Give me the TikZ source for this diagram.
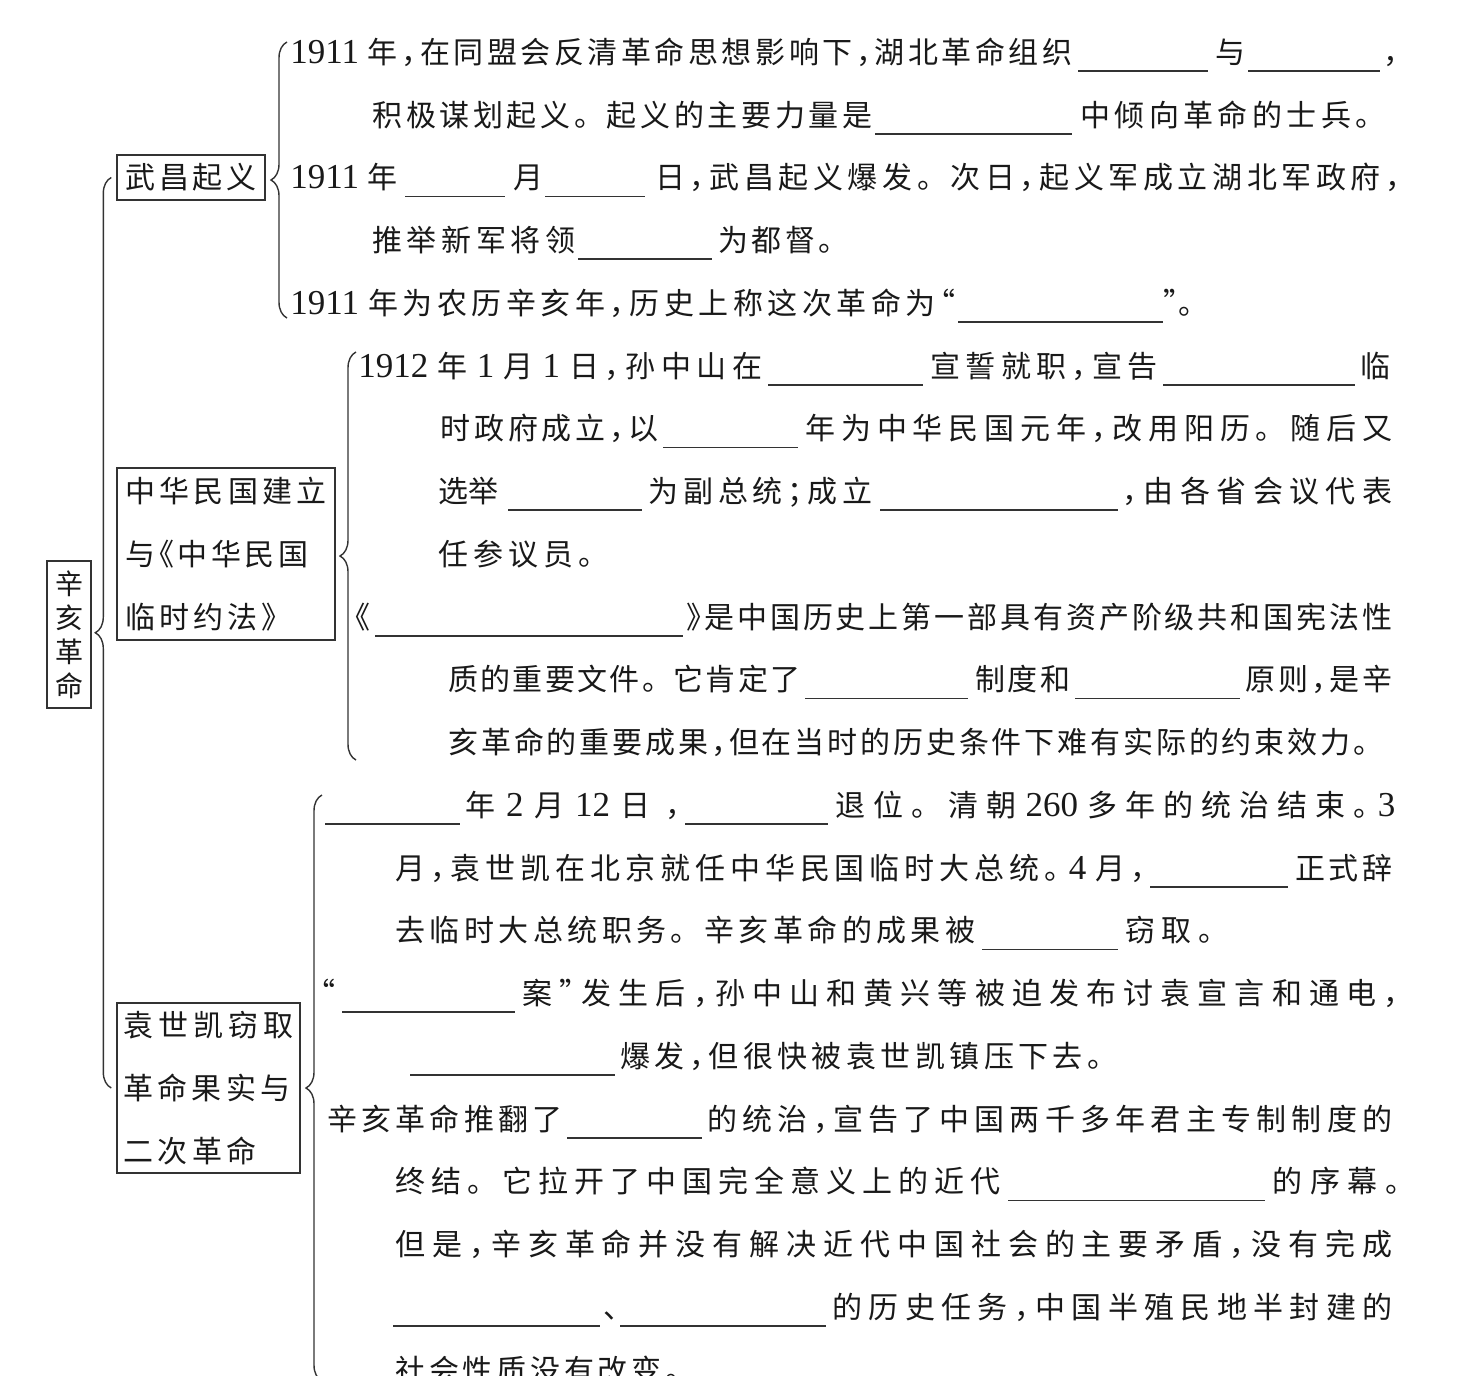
\documentclass[tikz,border=0pt]{standalone}
\usepackage{fontspec}
\setmainfont{Liberation Serif}
\newfontfamily\cjk[LetterSpace=5,RawFeature=+halt]{Noto Sans CJK SC}
\usetikzlibrary{decorations.pathreplacing}

% glue between Chinese characters, so that a line can be spread to its width
\XeTeXinterchartokenstate=1
\newcount\cjkc
\cjkc="4E00
\loop\XeTeXcharclass\cjkc=1 \advance\cjkc by 1 \ifnum\cjkc<"A000\relax\repeat
\XeTeXcharclass"3001=1 \XeTeXcharclass"3002=2 \XeTeXcharclass"FF0C=1
\XeTeXcharclass"FF1B=1 \XeTeXcharclass"201C=1 \XeTeXcharclass"201D=1
\XeTeXcharclass"300A=1 \XeTeXcharclass"300B=1
\XeTeXinterchartoks 1 1 = {\hskip 0pt plus 12pt minus 2pt}
\XeTeXinterchartoks 1 2 = {\hskip 0pt plus 12pt minus 2pt}
\XeTeXinterchartoks 2 1 = {\hskip 7pt plus 12pt minus 2pt}

\newlength\pxu \setlength\pxu{0.5pt}
\newcommand\jt[2]{\makebox[#1\pxu][s]{#2}}
\newcommand\dg[1]{{\rmfamily\fontsize{17.5}{20}\selectfont#1}}

\begin{document}
\begin{tikzpicture}[x=0.5pt,y=-0.5pt,
 txt/.style={anchor=base west,inner sep=0pt,text=black!90,font=\cjk\fontsize{15}{20}\selectfont},
 box/.style={draw=black!80,line width=0.7pt,inner sep=0pt,text=black!90,align=left,
   font=\cjk\fontsize{15}{31.5}\selectfont},
 brc/.style={draw=black!80,line width=0.7pt,decorate,decoration={brace,amplitude=8pt}},
 blank/.style={draw=black!80,line width=0.7pt}]
\useasboundingbox (0,0) rectangle (1468,1376);
\clip (0,0) rectangle (1468,1376);

% topic boxes
\node[box,align=center,font=\cjk\fontsize{14}{17}\selectfont,
  minimum width=22pt,minimum height=73.5pt] (xhgm) at (69,634.5) {辛\\亥\\革\\命};
\node[box,minimum width=74pt,minimum height=22.5pt] (wcqy) at (191,177.5) {\jt{131}{武昌起义}};
\node[box,minimum width=109pt,minimum height=86pt] (zhmg) at (226,554)
  {\jt{201}{中华民国建立}\\\jt{183}{与《中华民国}\\\jt{151}{临时约法》}};
\node[box,minimum width=91.5pt,minimum height=85pt] (ysk) at (208.5,1088)
  {\jt{170}{袁世凯窃取}\\\jt{167}{革命果实与}\\\jt{133}{二次革命}};

% braces
\draw[brc] ([xshift=-2.5pt]ysk.west) -- ([xshift=-2.5pt]wcqy.west);
\draw[brc] (287,318) -- (287,42);
\draw[brc] (356,760) -- (356,352);
\draw[brc] (322,1381) -- (322,795);

% Wuchang uprising
\node[txt] (r0a) at (290,63) {\jt{782}{\dg{1911} 年，在同盟会反清革命思想影响下，湖北革命组织}};
\node[txt] (r0b) at (1215,63) {与};
\node[txt] (r0c) at (1383,63) {，};
\node[txt] (r1a) at (372,126) {\jt{500}{积极谋划起义。起义的主要力量是}};
\node[txt] (r1b) at (1080,126) {\jt{290}{中倾向革命的士兵。}};
\node[txt] (r2a) at (290,188.5) {\dg{1911} 年};
\node[txt] (r2b) at (513,188.5) {月};
\node[txt] (r2c) at (655,188.5) {\jt{745}{日，武昌起义爆发。次日，起义军成立湖北军政府，}};
\node[txt] (r3a) at (372,251) {\jt{203}{推举新军将领}};
\node[txt] (r3b) at (718,251) {\jt{115}{为都督。}};
\node[txt] (r4a) at (290,314) {\jt{665}{\dg{1911} 年为农历辛亥年，历史上称这次革命为“}};
\node[txt] (r4b) at (1163,314) {”。};

% Republic of China and provisional constitution
\node[txt] (r5a) at (358,377) {\jt{404}{\dg{1912} 年 \dg{1} 月 \dg{1} 日，孙中山在}};
\node[txt] (r5b) at (930,377) {\jt{227}{宣誓就职，宣告}};
\node[txt] (r5c) at (1360,377) {临};
\node[txt] (r6a) at (440,439.5) {\jt{218}{时政府成立，以}};
\node[txt] (r6b) at (805,439.5) {\jt{587}{年为中华民国元年，改用阳历。随后又}};
\node[txt] (r7a) at (438,502) {选举};
\node[txt] (r7b) at (648,502) {\jt{224}{为副总统；成立}};
\node[txt] (r7c) at (1122,502) {\jt{270}{，由各省会议代表}};
\node[txt] (r8a) at (438,565) {\jt{155}{任参议员。}};
\node[txt] (r9a) at (355,628) {《};
\node[txt] (r9b) at (686,628) {\jt{706}{》是中国历史上第一部具有资产阶级共和国宪法性}};
\node[txt] (r10a) at (448,690.5) {\jt{352}{质的重要文件。它肯定了}};
\node[txt] (r10b) at (975,690.5) {\jt{95}{制度和}};
\node[txt] (r10c) at (1245,690.5) {\jt{147}{原则，是辛}};
\node[txt] (r11a) at (448,753) {\jt{920}{亥革命的重要成果，但在当时的历史条件下难有实际的约束效力。}};

% Yuan Shikai and the second revolution
\node[txt] (r12a) at (465,816) {\jt{215}{年 \dg{2} 月 \dg{12} 日，}};
\node[txt] (r12b) at (835,816) {\jt{560}{退位。清朝 \dg{260} 多年的统治结束。 \dg{3}}};
\node[txt] (r13a) at (395,879) {\jt{750}{月，袁世凯在北京就任中华民国临时大总统。 \dg{4} 月，}};
\node[txt] (r13b) at (1295,879) {\jt{97}{正式辞}};
\node[txt] (r14a) at (395,941.5) {\jt{580}{去临时大总统职务。辛亥革命的成果被}};
\node[txt] (r14b) at (1125,941.5) {\jt{88}{窃取。}};
\node[txt] (r15a) at (320,1004) {“};
\node[txt] (r15b) at (522,1004) {\jt{876}{案”发生后，孙中山和黄兴等被迫发布讨袁宣言和通电，}};
\node[txt] (r16a) at (620,1067) {\jt{482}{爆发，但很快被袁世凯镇压下去。}};
\node[txt] (r17a) at (327,1130) {\jt{235}{辛亥革命推翻了}};
\node[txt] (r17b) at (707,1130) {\jt{685}{的统治，宣告了中国两千多年君主专制制度的}};
\node[txt] (r18a) at (395,1192.5) {\jt{605}{终结。它拉开了中国完全意义上的近代}};
\node[txt] (r18b) at (1272,1192.5) {\jt{128}{的序幕。}};
\node[txt] (r19a) at (395,1255) {\jt{997}{但是，辛亥革命并没有解决近代中国社会的主要矛盾，没有完成}};
\node[txt] (r20a) at (603,1318) {、};
\node[txt] (r20b) at (832,1318) {\jt{560}{的历史任务，中国半殖民地半封建的}};
\node[txt] (r21a) at (395,1381) {\jt{285}{社会性质没有改变。}};

% blanks to fill in
\foreach \a/\b/\y in {1078/1208/71,1248/1380/71,875/1072/134,405/505/196.5,545/645/196.5,
  578/712/259,958/1163/322,768/923/385,1163/1355/385,663/798/447.5,508/642/510,880/1118/510,
  375/683/636,805/968/698.5,1075/1240/698.5,325/460/824,685/828/824,1150/1288/887,
  982/1118/949.5,342/515/1012,410/615/1075,567/702/1138,1008/1265/1200.5,393/600/1326,620/826/1326}
  \draw[blank] (\a,\y) -- (\b,\y);
\end{tikzpicture}
\end{document}
